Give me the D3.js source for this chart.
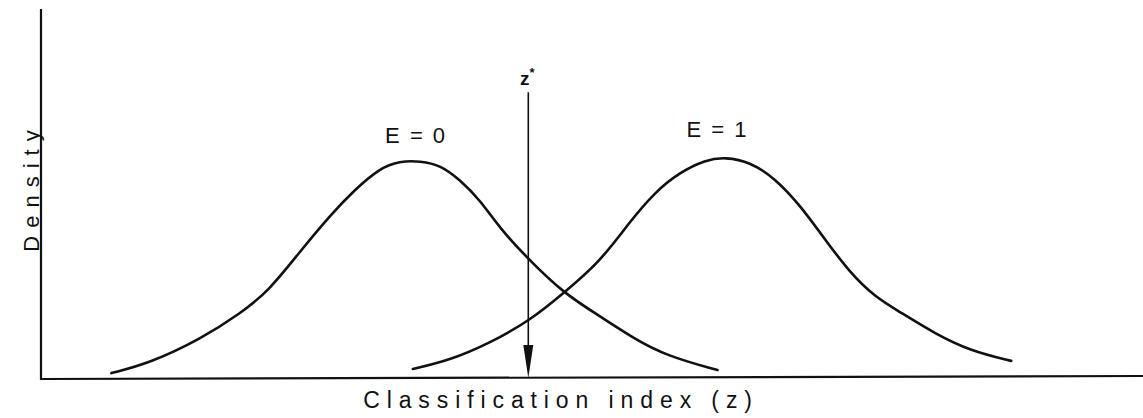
<!DOCTYPE html>
<html>
<head>
<meta charset="utf-8">
<script src="https://cdn.jsdelivr.net/npm/d3@7"></script>
<style>
  html, body { margin: 0; padding: 0; background: #fff; }
  svg { display: block; }
  text { font-family: "Liberation Sans", "DejaVu Sans", sans-serif; fill: #111; }
</style>
</head>
<body>
<svg id="chart" width="1143" height="418"></svg>
<script>
// Density curves (z in arbitrary units 0-100, density 0-100)
const e0Z = [6.4, 9.9, 14.5, 18.1, 20.8, 23.5, 26.3, 28.5, 30.8, 32.6, 34.5, 36.3, 38.1, 39.9, 41.7, 44.2, 47.5, 50.8, 53.8, 56.9, 61.5];
const e0D = [1.6, 4.3, 10.8, 17.6, 24.1, 34.3, 44.3, 51.1, 57.0, 58.9, 58.9, 57.8, 53.8, 48.4, 40.8, 32.7, 23.2, 17.0, 11.1, 6.2, 2.4];
const e1Z = [33.8, 37.2, 40.8, 44.5, 47.5, 50.8, 53.5, 55.8, 58.1, 60.4, 62.2, 64.5, 66.7, 69.0, 71.3, 73.5, 75.8, 78.1, 81.3, 84.5, 88.2];
const e1D = [2.7, 5.1, 9.7, 15.9, 23.2, 31.6, 42.4, 50.5, 55.9, 59.2, 60.0, 58.6, 54.3, 47.0, 37.6, 28.9, 22.2, 18.1, 12.2, 7.6, 4.9];
const seriesLabels = ["E = 0", "E = 1"];
const labelZ = [34.1, 61.5];
const labelD = [63.7, 65.4];
const threshold = 44.3;      // z*
const thresholdTop = 77.5;   // top of arrow (density units)
const xTitle = "Classification index (z)";
const yTitle = "Density";

const svg = d3.select("#chart");
const x = d3.scaleLinear().domain([0, 100]).range([41, 1141]);
const y = d3.scaleLinear().domain([0, 100]).range([379, 9]);

// axes (no ticks)
svg.append("line").attr("x1", x(0)).attr("x2", x(0)).attr("y1", y(0) + 1).attr("y2", y(100))
  .attr("stroke", "#111").attr("stroke-width", 2.2);
svg.append("line").attr("x1", x(0)).attr("x2", x(100) + 2).attr("y1", y(0)).attr("y2", y(0) - 3)
  .attr("stroke", "#111").attr("stroke-width", 2.2);

const line = d3.line().x(d => x(d[0])).y(d => y(d[1])).curve(d3.curveBasis);
const series = [d3.zip(e0Z, e0D), d3.zip(e1Z, e1D)];
svg.selectAll("path.curve").data(series).join("path")
  .attr("class", "curve")
  .attr("d", line)
  .attr("fill", "none")
  .attr("stroke", "#111")
  .attr("stroke-width", 2.6)
  .attr("stroke-linecap", "round");

// threshold arrow
const ax = x(threshold);
svg.append("line").attr("x1", ax).attr("x2", ax).attr("y1", y(thresholdTop)).attr("y2", y(0) - 25)
  .attr("stroke", "#111").attr("stroke-width", 1.6);
svg.append("path")
  .attr("d", `M${ax - 5},${y(0) - 34} L${ax + 5},${y(0) - 34} L${ax},${y(0) - 1} Z`)
  .attr("fill", "#111");
const zs = svg.append("text").attr("x", ax - 1).attr("y", y(thresholdTop) - 7)
  .attr("text-anchor", "middle").attr("font-size", 19).attr("font-weight", "bold");
zs.append("tspan").text("z");
zs.append("tspan").attr("dy", -8).attr("font-size", 13).text("*");

// series labels
svg.selectAll("text.slab").data(seriesLabels).join("text")
  .attr("class", "slab")
  .attr("x", (d, i) => x(labelZ[i]))
  .attr("y", (d, i) => y(labelD[i]))
  .attr("text-anchor", "middle")
  .attr("font-size", 22)
  .attr("letter-spacing", 2)
  .text(d => d);

// axis titles
svg.append("text").attr("x", 561).attr("y", 408).attr("text-anchor", "middle")
  .attr("font-size", 23).attr("letter-spacing", 6.9).text(xTitle);
svg.append("text").attr("transform", "translate(39,187) rotate(-90)").attr("text-anchor", "middle")
  .attr("font-size", 22).attr("letter-spacing", 8).text(yTitle);
</script>
</body>
</html>
